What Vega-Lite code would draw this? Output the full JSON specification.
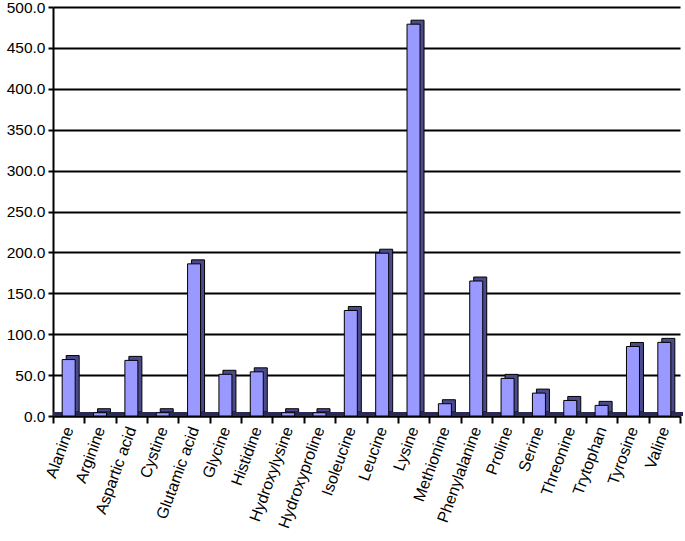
{
  "$schema": "https://vega.github.io/schema/vega-lite/v6.json",
  "width": 627,
  "height": 409,
  "autosize": {"type": "none"},
  "padding": {"left": 53, "top": 7, "right": 5, "bottom": 125},
  "config": {
    "view": {"stroke": null},
    "font": "Liberation Sans",
    "axis": {"labelFont": "Liberation Sans", "labelColor": "black"}
  },
  "data": {
    "values": [
      {"amino": "Alanine", "value": 69},
      {"amino": "Arginine", "value": 4},
      {"amino": "Aspartic acid", "value": 68},
      {"amino": "Cystine", "value": 4},
      {"amino": "Glutamic acid", "value": 186},
      {"amino": "Glycine", "value": 51},
      {"amino": "Histidine", "value": 54},
      {"amino": "Hydroxylysine", "value": 4},
      {"amino": "Hydroxyproline", "value": 4},
      {"amino": "Isoleucine", "value": 129},
      {"amino": "Leucine", "value": 199},
      {"amino": "Lysine", "value": 479},
      {"amino": "Methionine", "value": 15},
      {"amino": "Phenylalanine", "value": 165},
      {"amino": "Proline", "value": 46},
      {"amino": "Serine", "value": 28},
      {"amino": "Threonine", "value": 19},
      {"amino": "Trytophan", "value": 13},
      {"amino": "Tyrosine", "value": 85},
      {"amino": "Valine", "value": 90}
    ]
  },
  "layer": [
    {
      "mark": {"type": "bar", "width": 13, "xOffset": 4, "yOffset": -4, "color": "#4a4a8c", "stroke": "black", "strokeWidth": 1},
      "encoding": {
        "x": {
          "field": "amino",
          "type": "nominal",
          "sort": null,
          "scale": {"paddingInner": 0, "paddingOuter": 0},
          "axis": {
            "title": null,
            "labelAngle": -70,
            "labelAlign": "right",
            "labelBaseline": "middle",
            "labelFontSize": 16,
            "labelPadding": 4,
            "tickBand": "extent",
            "tickColor": "black",
            "tickWidth": 2,
            "tickSize": 7,
            "domainColor": "black",
            "domainWidth": 2
          }
        },
        "y": {
          "field": "value",
          "type": "quantitative",
          "scale": {"domain": [0, 500]},
          "axis": {
            "title": null,
            "values": [0, 50, 100, 150, 200, 250, 300, 350, 400, 450, 500],
            "format": ".1f",
            "labelFontSize": 15.5,
            "labelPadding": 3,
            "grid": true,
            "gridColor": "black",
            "gridWidth": 2,
            "gridOpacity": 1,
            "tickColor": "black",
            "tickWidth": 2,
            "tickSize": 5,
            "domainColor": "black",
            "domainWidth": 2
          }
        }
      }
    },
    {
      "mark": {"type": "rule", "color": "#2a2a55", "strokeWidth": 3, "yOffset": -2, "xOffset": 3},
      "encoding": {
        "y": {"datum": 0, "type": "quantitative"}
      }
    },
    {
      "mark": {"type": "bar", "width": 13, "color": "#9999ff", "stroke": "black", "strokeWidth": 1},
      "encoding": {
        "x": {"field": "amino", "type": "nominal", "sort": null},
        "y": {"field": "value", "type": "quantitative"}
      }
    }
  ]
}
